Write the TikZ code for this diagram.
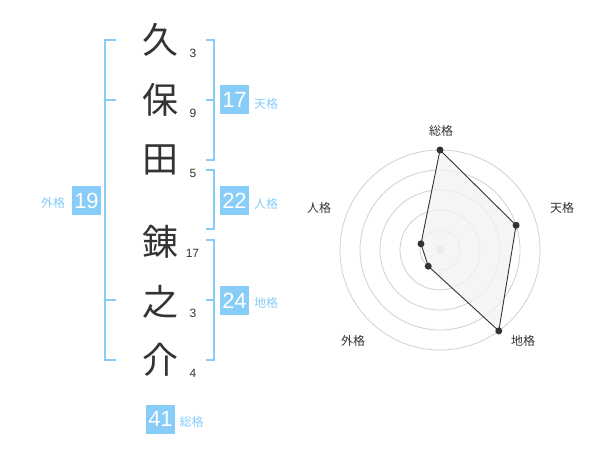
\documentclass[tikz,border=0pt]{standalone}
\usepackage{fontspec}
\setmainfont{Liberation Sans}
\newfontfamily\jpfont{Noto Sans CJK JP}
\usepackage{tikz}
\definecolor{kakublue}{HTML}{88CCF8}
\definecolor{inkgray}{HTML}{333333}
\definecolor{ringgray}{HTML}{D0D0D0}
\definecolor{areagray}{HTML}{F2F2F2}

\begin{document}
\begin{tikzpicture}[x=1pt, y=-1pt,
  kanji/.style={font=\jpfont\fontsize{36}{36}\selectfont, text=inkgray, inner sep=0pt},
  strokes/.style={font=\fontsize{12}{12}\selectfont, text=inkgray, inner sep=0pt},
  kakubox/.style={fill=kakublue, text=white, minimum width=29pt, minimum height=29pt, inner sep=0pt, font=\fontsize{22}{22}\selectfont},
  kakulabel/.style={font=\jpfont\fontsize{12}{12}\selectfont, text=kakublue, inner sep=0pt},
  axislabel/.style={font=\jpfont\fontsize{12}{12}\selectfont, text=inkgray, inner sep=0pt},
  bracket/.style={draw=kakublue, line width=2pt}]
\useasboundingbox (0,0) rectangle (600,470);
%%%%%%%%%%%%%%%%%%%%%%%%%%%%%%%
% name column
%%%%%%%%%%%%%%%%%%%%%%%%%%%%%%%
\node [kanji] (k1) at (160, 40) {久};
\node [kanji] (k2) at (160, 100) {保};
\node [kanji] (k3) at (160, 160) {田};
\node [kanji] (k4) at (160, 242) {錬};
\node [kanji] (k5) at (160, 302) {之};
\node [kanji] (k6) at (160, 360) {介};
%
\node [strokes] (s1) at (193, 53) {3};
\node [strokes] (s2) at (193, 113) {9};
\node [strokes] (s3) at (193, 173) {5};
\node [strokes] (s4) at (192.5, 253) {17};
\node [strokes] (s5) at (193, 313) {3};
\node [strokes] (s6) at (193, 373) {4};
%
\draw [bracket] (116, 40) -- (105, 40) -- (105, 360) -- (116, 360);
\draw [bracket] (105, 100) -- (116, 100);
\draw [bracket] (105, 300) -- (116, 300);
\draw [bracket] (206, 40) -- (214, 40) -- (214, 160) -- (206, 160);
\draw [bracket] (206, 100) -- (214, 100);
\draw [bracket] (206, 170) -- (214, 170) -- (214, 229) -- (206, 229);
\draw [bracket] (206, 240) -- (214, 240) -- (214, 360) -- (206, 360);
\draw [bracket] (206, 300) -- (214, 300);
%
\node [kakubox] (ten) at (234.5, 100) {17};
\node [kakulabel] (tenl) at (266, 104) {天格};
\node [kakubox] (jin) at (234.5, 200.5) {22};
\node [kakulabel] (jinl) at (266, 204) {人格};
\node [kakubox] (chi) at (234.5, 300.5) {24};
\node [kakulabel] (chil) at (266, 303) {地格};
\node [kakubox] (gai) at (86.5, 200.5) {19};
\node [kakulabel] (gail) at (53, 203) {外格};
\node [kakubox] (sou) at (160.5, 419) {41};
\node [kakulabel] (soul) at (191.5, 422) {総格};
%%%%%%%%%%%%%%%%%%%%%%%%%%%%%%%
% radar chart
%%%%%%%%%%%%%%%%%%%%%%%%%%%%%%%
\begin{scope}[shift={(440, 250)}, yscale=-1]
\foreach \r in {20, 40, 60, 80, 100}
  \draw [ringgray, line width=0.8pt] (0, 0) circle [radius=\r];
\fill [ringgray] (0, 0) circle [radius=4];
\coordinate (psou) at (90:100);
\coordinate (pten) at (18:80);
\coordinate (pchi) at (-54:100);
\coordinate (pgai) at (-126:20);
\coordinate (pjin) at (162:20);
\draw [inkgray, fill=areagray, fill opacity=0.8, line width=0.9pt] (psou) -- (pten) -- (pchi) -- (pgai) -- (pjin) -- cycle;
\foreach \p in {psou, pten, pchi, pgai, pjin}
  \fill [inkgray] (\p) circle [radius=3.5];
\end{scope}
\node [axislabel] (asou) at (441, 131) {総格};
\node [axislabel] (aten) at (562, 208) {天格};
\node [axislabel] (achi) at (523, 341) {地格};
\node [axislabel] (agai) at (353, 341) {外格};
\node [axislabel] (ajin) at (319, 208) {人格};
%%%%%%%%%%%%%%%%%%%%%%%%%%%%%%%
\end{tikzpicture}
\end{document}
